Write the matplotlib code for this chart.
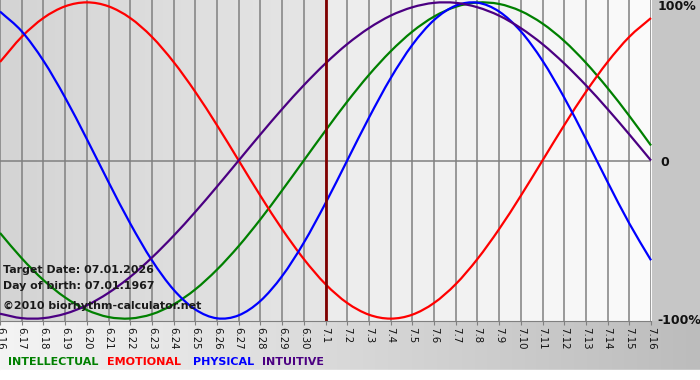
#biorhythm chart, 6.16 - 7.16, target date 07.01.2026
import numpy as np
import matplotlib.pyplot as plt
from matplotlib.path import Path
from matplotlib.patches import PathPatch, Rectangle
from matplotlib.colors import LinearSegmentedColormap

days = ['6.16', '6.17', '6.18', '6.19', '6.20', '6.21', '6.22', '6.23', '6.24', '6.25',
        '6.26', '6.27', '6.28', '6.29', '6.30', '7.1', '7.2', '7.3', '7.4', '7.5',
        '7.6', '7.7', '7.8', '7.9', '7.10', '7.11', '7.12', '7.13', '7.14', '7.15', '7.16']
target_day = '7.1'

#values per day, -1 .. 1
physical = [0.942, 0.817, 0.631, 0.398, 0.136, -0.136, -0.398, -0.631, -0.817, -0.942,
            -0.998, -0.979, -0.888, -0.731, -0.520, -0.270, 0.000, 0.270, 0.520, 0.731,
            0.888, 0.979, 0.998, 0.942, 0.817, 0.631, 0.398, 0.136, -0.136, -0.398, -0.631]
emotional = [0.623, 0.782, 0.901, 0.975, 1.000, 0.975, 0.901, 0.782, 0.623, 0.434,
             0.223, 0.000, -0.223, -0.434, -0.623, -0.782, -0.901, -0.975, -1.000, -0.975,
             -0.901, -0.782, -0.623, -0.434, -0.223, 0.000, 0.223, 0.434, 0.623, 0.782, 0.901]
intellectual = [-0.458, -0.618, -0.756, -0.866, -0.945, -0.990, -0.999, -0.972, -0.910, -0.815,
                -0.690, -0.541, -0.372, -0.189, 0.000, 0.189, 0.372, 0.541, 0.690, 0.815,
                0.910, 0.972, 0.999, 0.990, 0.945, 0.866, 0.756, 0.618, 0.458, 0.282, 0.095]
intuitive = [-0.969, -0.997, -0.997, -0.969, -0.916, -0.837, -0.736, -0.614, -0.476, -0.325,
             -0.165, 0.000, 0.165, 0.325, 0.476, 0.614, 0.736, 0.837, 0.916, 0.969,
             0.997, 0.997, 0.969, 0.916, 0.837, 0.736, 0.614, 0.476, 0.325, 0.165, 0.000]

series = [('INTELLECTUAL', intellectual, '#008000'),
          ('EMOTIONAL', emotional, '#ff0000'),
          ('PHYSICAL', physical, '#0000ff'),
          ('INTUITIVE', intuitive, '#4b0082')]


def smooth_path(xs, ys):
    #curve through the daily points (catmull-rom as bezier segments)
    p = np.column_stack([xs, ys]).astype(float)
    ext = np.vstack([2*p[0]-p[1], p, 2*p[-1]-p[-2]])
    verts = [p[0]]
    codes = [Path.MOVETO]
    for i in range(len(p)-1):
        a, b, c, d = ext[i], ext[i+1], ext[i+2], ext[i+3]
        verts += [b + (c-a)/6, c - (d-b)/6, c]
        codes += [Path.CURVE4]*3
    return Path(verts, codes)


W, H = 700, 380
fig = plt.figure(figsize=(W/100, H/100), dpi=100)
fig.patch.set_facecolor('#c6c6c6')

#white band at the very bottom
fig.patches.append(Rectangle((0, 0), 1, 10/H, transform=fig.transFigure, color='#ffffff', zorder=0))

#bottom strip with gradient
bg = fig.add_axes([0, 10/H, 1, 49/H])
bg.imshow(np.linspace(0, 1, 256).reshape(1, -1), cmap=LinearSegmentedColormap.from_list('g', ['#f4f4f4', '#bcbcbc']),
          aspect='auto', extent=[0, 1, 0, 1])
bg.axis('off')

ax = fig.add_axes([0, 1-321/H, 651/W, 321/H])
n = len(days)
x = np.arange(n)
ti = days.index(target_day)
ylim = 1.015
left_cm = LinearSegmentedColormap.from_list('l', ['#d4d4d4', '#e6e6e6'])
right_cm = LinearSegmentedColormap.from_list('r', ['#ececec', '#fbfbfb'])
grad = np.linspace(0, 1, 256).reshape(1, -1)
ax.imshow(grad, cmap=left_cm, aspect='auto', extent=[0, ti, -ylim, ylim], zorder=0)
ax.imshow(grad, cmap=right_cm, aspect='auto', extent=[ti, n-1, -ylim, ylim], zorder=0)

for i in x:
    ax.axvline(i, color='#808080', lw=1.1, zorder=1)
ax.axhline(0, color='#808080', lw=1.1, zorder=1)
ax.axvline(ti, color='#800000', lw=2, zorder=3)

for name, vals, col in series:
    ax.add_patch(PathPatch(smooth_path(x, vals), fill=False, edgecolor=col, lw=1.6, zorder=2, clip_on=False))

ax.set_xlim(0, n-1)
ax.set_ylim(-ylim, ylim)
ax.set_yticks([])
ax.set_xticks(x)
ax.set_xticklabels(days, rotation=-90, fontsize=7.3, color='#111111')
ax.tick_params(axis='x', length=3, color='#808080', pad=1)
for s in ['top', 'left', 'right']:
    ax.spines[s].set_visible(False)
ax.spines['bottom'].set_color('#808080')

#right side labels
fig.text(658/W, 1-7/H, '100%', fontsize=9, fontweight='bold', va='center', ha='left', color='#111111')
fig.text(660/W, 1-162/H, '0', fontsize=9, fontweight='bold', va='center', ha='left', color='#111111')
fig.text(657/W, 1-321/H, '-100%', fontsize=9, fontweight='bold', va='center', ha='left', color='#111111')

#info text
fig.text(3/W, 1-270/H, 'Target Date: 07.01.2026', fontsize=7.9, fontweight='bold', va='center', color='#1a1a1a')
fig.text(3/W, 1-286/H, 'Day of birth: 07.01.1967', fontsize=7.9, fontweight='bold', va='center', color='#1a1a1a')
fig.text(3/W, 1-306/H, '\u00a92010 biorhythm-calculator.net', fontsize=7.9, fontweight='bold', va='center', color='#1a1a1a')

#legend
lx = [8, 107, 193, 262]
for (name, vals, col), px in zip(series, lx):
    fig.text(px/W, 1-362/H, name, fontsize=8, fontweight='bold', va='center', ha='left', color=col)

fig.savefig('out.png', dpi=100)
